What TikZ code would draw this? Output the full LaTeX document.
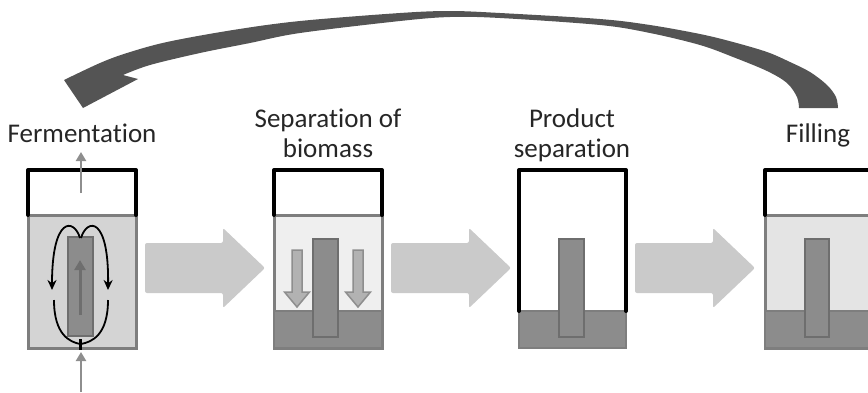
\documentclass[tikz,border=0pt]{standalone}
\usepackage{fontspec}
\setmainfont[RawFeature={-liga;-clig;-dlig;-calt}]{Carlito}
\usetikzlibrary{arrows.meta}
\definecolor{recyclegray}{HTML}{545454}
\definecolor{blockgray}{HTML}{CACACA}
\definecolor{wallgray}{HTML}{7E7E7E}
\definecolor{rodgray}{HTML}{8C8C8C}
\definecolor{rodedge}{HTML}{6E6E6E}
\definecolor{brothfill}{HTML}{D4D4D4}
\definecolor{clearfill}{HTML}{EFEFEF}
\definecolor{fillfill}{HTML}{E4E4E4}
\definecolor{flowgray}{HTML}{B2B2B2}
\definecolor{gasgray}{HTML}{8E8E8E}
\begin{document}
\begin{tikzpicture}[x=1pt,y=-1pt,
  label/.style={font=\fontsize{27}{31}\selectfont, text=black!85, inner sep=0pt},
  bodyline/.style={draw=wallgray, line width=3pt},
  lidline/.style={draw=black, line width=4pt, line cap=round, line join=round},
  rodbox/.style={fill=rodgray, draw=rodedge, line width=2pt},
  sediment/.style={fill=rodgray, draw=wallgray, line width=2.5pt},
  blockarrow/.style={fill=blockgray, rounded corners=2pt},
  settlearrow/.style={fill=flowgray, draw=gasgray, line width=1.5pt},
  gasarrow/.style={draw=gasgray, line width=2.5pt, -{Triangle[length=9pt,width=10pt]}},
  circflow/.style={draw=black, line width=1.8pt},
  circtip/.style={circflow, -{Stealth[length=10pt,width=9pt]}}
]
\useasboundingbox (0,0) rectangle (868,392);

% recycle arrow from filling back to fermentation
\fill[recyclegray]
  plot[smooth, tension=0.55] coordinates {(838,108) (836,97) (827,85) (810,72) (790,62) (767,52) (733,42) (700,34) (650,25) (600,19) (500,13) (450,11) (400,13) (300,21) (233,30) (167,42) (127,53) (100,63) (64,80)}
  -- (83,108) -- (138,79) -- (123,75)
  -- plot[smooth, tension=0.55] coordinates {(123,75) (150,65) (200,53) (250,43) (300,33) (400,21) (450,17) (500,18) (600,25) (650,33) (700,45) (733,57) (767,71) (787,83) (797,97) (799,108)}
  -- cycle;

% step labels
\node[label, anchor=base] (lferm) at (82,142) {Fermentation};
\node[label, anchor=base] (lsep1) at (328,127) {Separation of};
\node[label, anchor=base] (lsep2) at (328,157) {biomass};
\node[label, anchor=base] (lprod1) at (572,127) {Product};
\node[label, anchor=base] (lprod2) at (572,157) {separation};
\node[label, anchor=base] (lfill) at (818,142) {Filling};

% block arrows between steps
\foreach \s in {145,391,635}{
  \fill[blockarrow] (\s,243) -- (\s+78,243) -- (\s+78,228) -- (\s+120,268)
    -- (\s+78,308) -- (\s+78,293) -- (\s,293) -- cycle;
}

% --- fermentation vessel ---
\fill[brothfill] (28,215) rectangle (136,348);
\draw[rodbox] (68,237) rectangle (93,336);
\draw[bodyline] (28,215) rectangle (136,348);
\draw[lidline] (28,215) -- (28,170) -- (136,170) -- (136,215);
\draw[gasarrow] (81,193) -- (81,152);
\draw[gasarrow] (81,392) -- (81,352);
\draw[draw=rodedge, line width=3pt, -{Triangle[length=10pt,width=11pt]}] (80,315) -- (80,260);
\draw[circtip] (80,238) .. controls (74,218) and (52,216) .. (52,290);
\draw[circtip] (81,238) .. controls (87,218) and (109,216) .. (108,290);
\draw[circflow] (54,300) .. controls (54,335) and (70,342) .. (80,344);
\draw[circflow] (108,300) .. controls (108,335) and (92,342) .. (81,344);
\draw[black, line width=3pt] (80.5,339) -- (80.5,350);

% --- biomass separation vessel ---
\fill[clearfill] (274,215) rectangle (382,311);
\draw[bodyline] (274,215) rectangle (382,348);
\draw[sediment] (274,311) rectangle (382,348);
\draw[rodbox] (313,239) rectangle (338,337);
\foreach \c in {297,358}{
  \draw[settlearrow] (\c-5,250) -- (\c+5,250) -- (\c+5,292) -- (\c+12.5,292)
    -- (\c,307) -- (\c-12.5,292) -- (\c-5,292) -- cycle;
}
\draw[lidline] (274,215) -- (274,170) -- (382,170) -- (382,215);

% --- product separation vessel ---
\draw[sediment] (519,311) rectangle (626,348);
\draw[rodbox] (559,239) rectangle (584,337);
\draw[lidline] (519,311) -- (519,170) -- (626,170) -- (626,311);

% --- filling vessel ---
\fill[fillfill] (765,215) rectangle (873,311);
\draw[bodyline] (765,215) rectangle (873,348);
\draw[sediment] (765,311) rectangle (873,348);
\draw[rodbox] (805,239) rectangle (829,337);
\draw[lidline] (765,215) -- (765,170) -- (873,170) -- (873,215);
\end{tikzpicture}
\end{document}
